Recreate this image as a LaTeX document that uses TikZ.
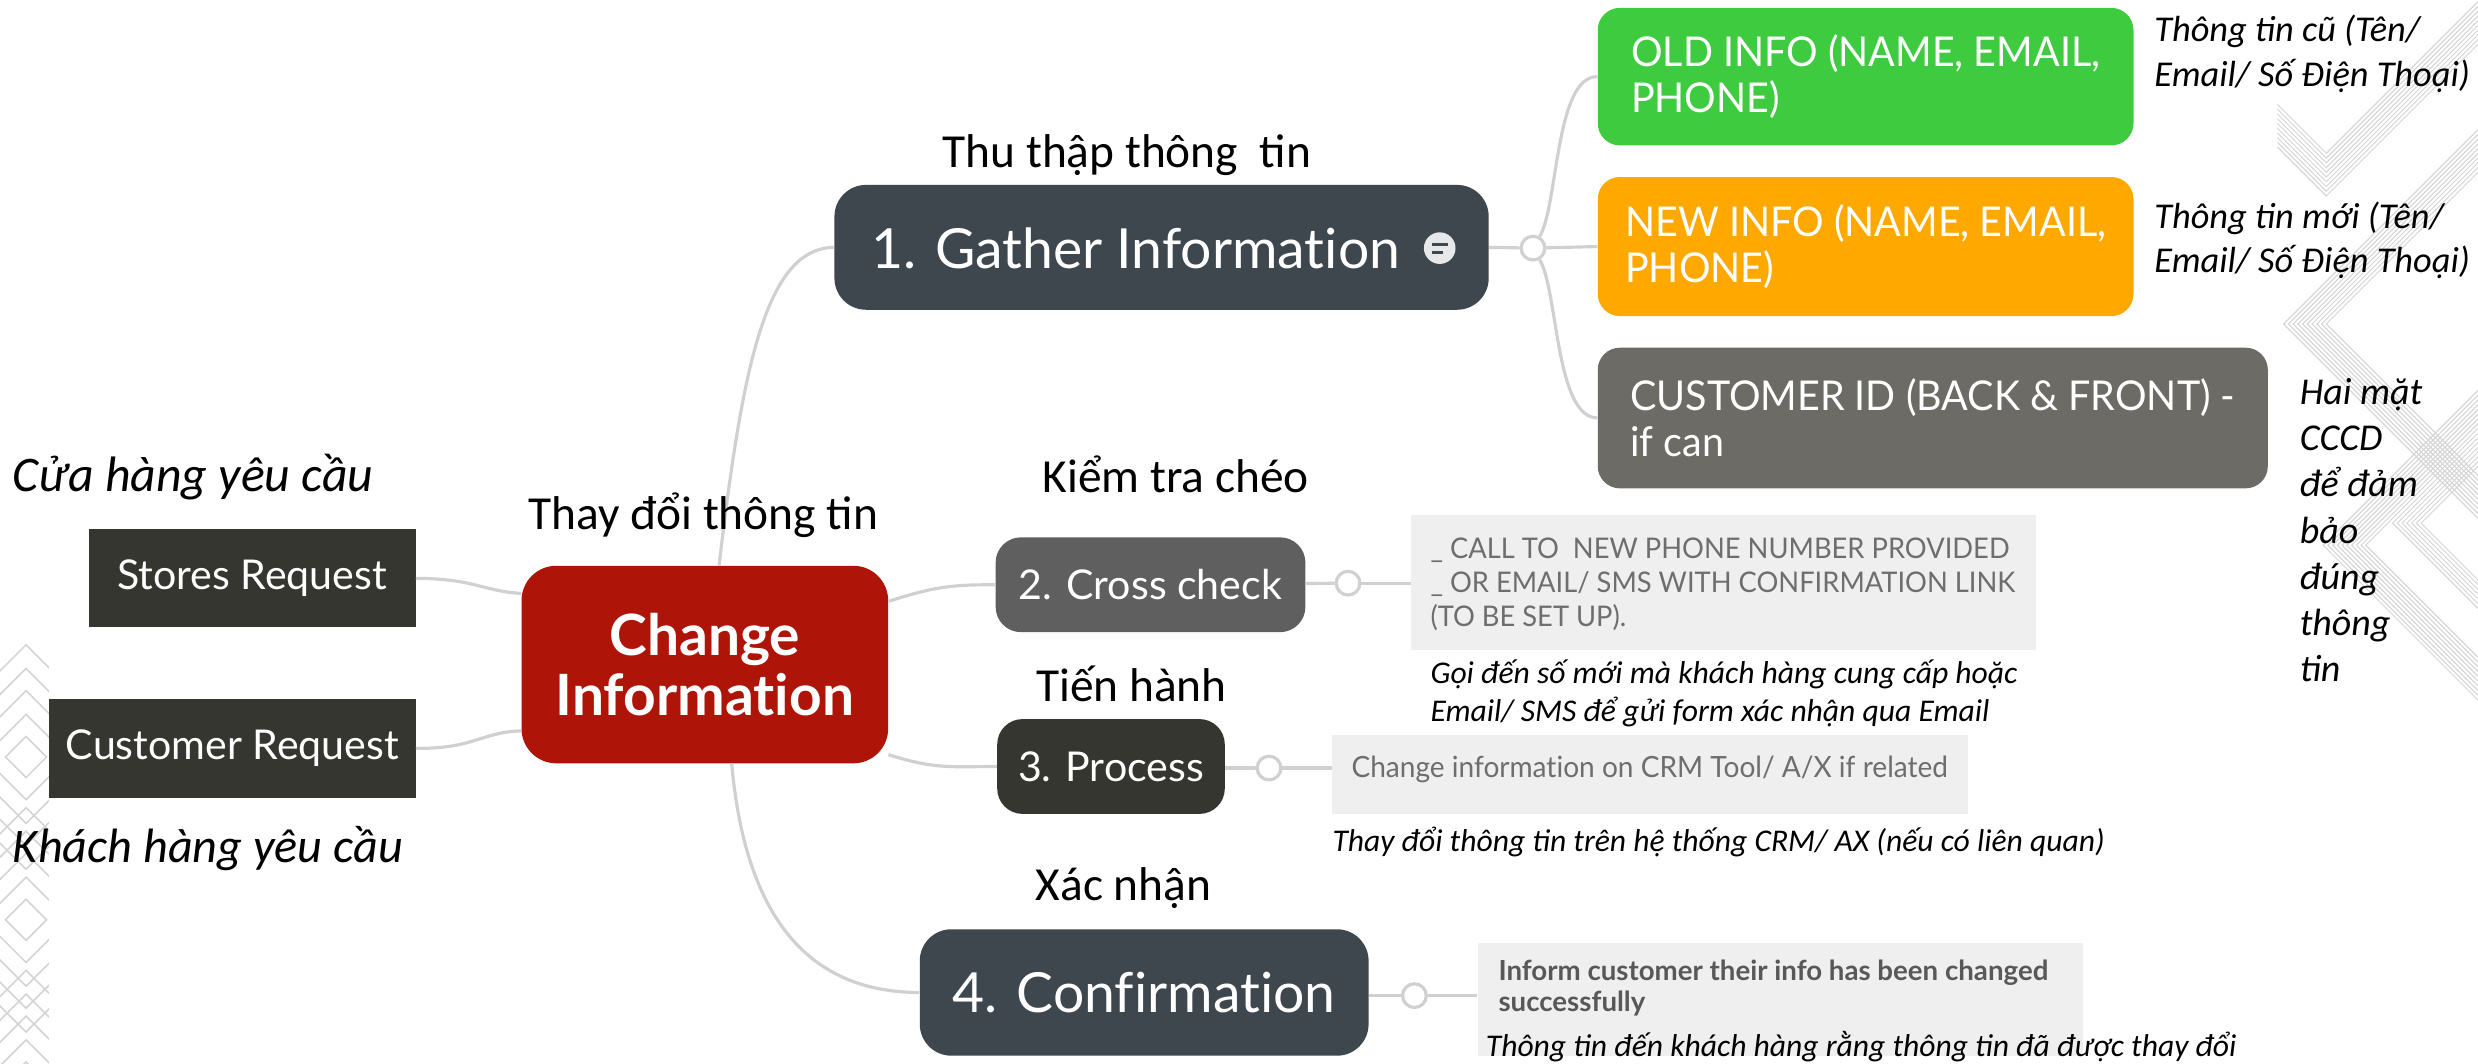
\documentclass[tikz,border=0pt]{standalone}
\usepackage{fontspec}
\setmainfont{Carlito}
\newfontfamily\mm[Ligatures=NoCommon]{Lato}
\newfontfamily\mmc[Ligatures=NoCommon, FakeStretch=0.96]{Lato}
\usetikzlibrary{calc}

\definecolor{slate}{HTML}{3E464E}
\definecolor{crossgray}{HTML}{5F5F5F}
\definecolor{darkbox}{HTML}{363631}
\definecolor{chred}{HTML}{AE1408}
\definecolor{oldgreen}{HTML}{3ECB40}
\definecolor{neworange}{HTML}{FEA800}
\definecolor{idgray}{HTML}{6C6B66}
\definecolor{notebg}{HTML}{EFEFEF}
\definecolor{notetext}{HTML}{6E6E6E}
\definecolor{edgegray}{HTML}{D0D0D0}
\definecolor{patgray}{HTML}{D4D4D4}
\definecolor{icongray}{HTML}{E6E8EA}

\newcommand\fsz[2]{\fontsize{#1}{#2}\selectfont}

\tikzset{
  edge/.style={draw=edgegray, line width=2pt},
  knob/.style={circle, draw=edgegray, line width=2pt, fill=white, minimum size=15pt, inner sep=0},
  topic/.style={rounded corners=#1, text=white, inner sep=0pt, font=\mm},
  leaf/.style={rounded corners=14pt, text=white, inner sep=0pt, align=left, font=\mmc\fsz{26}{29}},
  srcbox/.style={fill=darkbox, text=white, inner sep=0pt, font=\mm\fsz{26}{30}},
  notebox/.style={fill=notebg, inner sep=0pt},
  notetxt/.style={inner sep=0pt, anchor=west, align=left, text=notetext, font=\mmc\fsz{18}{21.5}},
  vnlabel/.style={inner sep=0pt, font=\fsz{30}{36}},
  vnnote/.style={inner sep=0pt, align=left, font=\itshape\fsz{20}{24}},
  pat/.style={draw=patgray, line width=0.6pt},
}

\begin{document}
\begin{tikzpicture}[x=1pt, y=-1pt]
\useasboundingbox (0,0) rectangle (1568,673);
\fill[white] (0,0) rectangle (1568,673);

% decorative hatched chevrons, right edge
\begin{scope}
  \clip (1441,0) -- (1568,0) -- (1568,445) -- (1441,318) -- cycle;
  \foreach \k in {0,...,9} {
    \draw[pat] (1568,{345-98+3*\k}) -- ({1470+3*\k},345) -- (1568,{345+98-3*\k});
    \draw[pat] (1568,{205-123+3*\k}) -- ({1445+3*\k},205) -- (1568,{205+123-3*\k});
    \draw[pat] (1441,{66+3*\k}) -- (1472,{97+3*\k}) -- (1569,{0+3*\k});
  }
  \foreach \k in {0,...,6} {
    \draw[pat] (1568,{331-54+3*\k}) -- ({1514+3*\k},331) -- (1568,{331+54-3*\k});
  }
\end{scope}

% decorative nested diamonds, left edge
\begin{scope}
  \clip (0,400) rectangle (31,673);
  \foreach \c in {479,582,685} {
    \foreach \h in {13,27,42,56,71} {
      \draw[draw=patgray, line width=1pt] (16.5,{\c-\h}) -- ({16.5+\h},\c) -- (16.5,{\c+\h}) -- ({16.5-\h},\c) -- cycle;
    }
  }
\end{scope}

% central topic and sources
\node[topic=22pt, fill=chred, minimum width=232pt, minimum height=125pt,
      font=\mm\bfseries\fsz{36}{38}, align=center] (change) at (446,420.5) {Change\\Information};
\node[srcbox, minimum width=207pt, minimum height=62pt] (stores) at (159.5,366) {Stores Request};
\node[srcbox, minimum width=232pt, minimum height=63pt] (customer) at (147,473.5) {Customer Request};

% main steps
\node[topic=20pt, fill=slate, minimum width=414pt, minimum height=79pt] (gather) at (735,156.5) {};
\node[inner sep=0pt, anchor=west, text=white, font=\mm\fsz{35}{42}] (gathertxt) at (551,157) {1. Gather Information};
\node[circle, fill=icongray, minimum size=20pt, inner sep=0pt] (gathericon) at (911,157) {};
\draw[slate, line width=2pt] ([xshift=-5pt,yshift=2.5pt]gathericon.center) -- ++(10,0)
                            ([xshift=-5pt,yshift=-3pt]gathericon.center) -- ++(7,0);

\node[topic=16pt, fill=crossgray, minimum width=196pt, minimum height=60pt, font=\mm\fsz{26}{30}] (cross) at (728,370) {2. Cross check};
\node[topic=16pt, fill=darkbox, minimum width=144pt, minimum height=60pt, font=\mm\fsz{26}{30}] (process) at (703,485) {3. Process};
\node[topic=20pt, fill=slate, minimum width=284pt, minimum height=80pt, font=\mm\fsz{35}{42}] (confirm) at (724,628) {4. Confirmation};

% details of step 1
\node[leaf, fill=oldgreen, minimum width=339pt, minimum height=87pt] (old) at (1180.5,48.5) {OLD INFO (NAME, EMAIL,\\PHONE)};
\node[leaf, fill=neworange, minimum width=339pt, minimum height=88pt] (new) at (1180.5,156) {NEW INFO (NAME, EMAIL,\\PHONE)};
\node[leaf, fill=idgray, minimum width=424pt, minimum height=89pt] (custid) at (1223,264.5) {CUSTOMER ID (BACK \& FRONT) -\\if can};

% notes of steps 2-4
\node[notebox, minimum width=395pt, minimum height=85pt] (crossnote) at (1090.5,368.5) {};
\node[notetxt] (crosstxt) at (905,370)
  {\_ CALL TO\ \ NEW PHONE NUMBER PROVIDED\\\_ OR EMAIL/ SMS WITH CONFIRMATION LINK\\(TO BE SET UP).};
\node[notebox, minimum width=402pt, minimum height=50pt] (processnote) at (1044,490) {};
\node[notetxt, font=\mmc\fsz{18.5}{22}] (processtxt) at (855,487) {Change information on CRM Tool/ A/X if related};
\node[notebox, minimum width=383pt, minimum height=71pt] (confirmnote) at (1126.5,632.5) {};
\node[inner sep=0pt, anchor=north west, align=left, text=notetext!80!black, font=\mm\bfseries\fsz{17.5}{20}] (confirmtxt) at (948,607)
  {Inform customer their info has been changed\\successfully};

% connector knobs
\node[knob] (k1) at (970,157) {};
\node[knob] (k2) at (853,369) {};
\node[knob] (k3) at (803,486) {};
\node[knob] (k4) at (895,630) {};

% connectors
\draw[edge] ([xshift=9pt]change.north) .. controls (470,230) and (485,157) .. (gather.west);
\draw[edge] ([yshift=40pt]change.east) .. controls (592,371) and (602,370) .. (cross.west);
\draw[edge] ([yshift=-57pt]change.east) .. controls (592,487) and (602,485) .. (process.west);
\draw[edge] ([xshift=17pt]change.south) .. controls (472,585) and (515,628) .. (confirm.west);
\draw[edge] (stores.east) .. controls (300,366) and (305,374) .. ([yshift=45pt]change.west);
\draw[edge] (customer.east) .. controls (300,474) and (305,463) .. ([yshift=-42pt]change.west);

\draw[edge] (gather.east) -- (k1);
\draw[edge] (k1) -- (new.west);
\draw[edge] (k1.60) .. controls (986,130) and (984,48) .. (old.west);
\draw[edge] (k1.-60) .. controls (986,184) and (984,264) .. (custid.west);

\draw[edge] (cross) -- (k2);
\draw[edge] (k2) -- (k2 -| crossnote.west);
\draw[edge] (process.east |- k3) -- (k3);
\draw[edge] (k3) -- (k3 -| processnote.west);
\draw[edge] (confirm.east |- k4) -- (k4);
\draw[edge] (k4) -- (k4 -| confirmnote.west);

% Vietnamese headings
\node[vnlabel] (lgather) at (713,98) {Thu thập thông\ \ tin};
\node[vnlabel] (lcross) at (744,300) {Kiểm tra chéo};
\node[vnlabel] (lchange) at (445,326) {Thay đổi thông tin};
\node[vnlabel] (lprocess) at (716,433) {Tiến hành};
\node[vnlabel] (lconfirm) at (711,562) {Xác nhận};

% Vietnamese notes
\node[vnnote, anchor=west, font=\itshape\fsz{31.5}{36}] (nstores) at (8,302) {Cửa hàng yêu cầu};
\node[vnnote, anchor=west, font=\itshape\fsz{30.5}{36}] (ncustomer) at (8,537) {Khách hàng yêu cầu};
\node[vnnote, anchor=west, font=\itshape\fsz{23}{28}] (nold) at (1363,34) {Thông tin cũ (Tên/\\Email/ Số Điện Thoại)};
\node[vnnote, anchor=west, font=\itshape\fsz{23}{28}] (nnew) at (1363,152) {Thông tin mới (Tên/\\Email/ Số Điện Thoại)};
\node[vnnote, anchor=west, font=\itshape\fsz{24}{29.2}] (nid) at (1455,335.5) {Hai mặt\\CCCD\\để đảm\\bảo\\đúng\\thông\\tin};
\node[vnnote, anchor=west] (ncross) at (905,439) {Gọi đến số mới mà khách hàng cung cấp hoặc\\Email/ SMS để gửi form xác nhận qua Email};
\node[vnnote, anchor=west] (nprocess) at (843,533) {Thay đổi thông tin trên hệ thống CRM/ AX (nếu có liên quan)};
\node[vnnote, anchor=west] (nconfirm) at (940,662) {Thông tin đến khách hàng rằng thông tin đã được thay đổi};
\end{tikzpicture}
\end{document}
